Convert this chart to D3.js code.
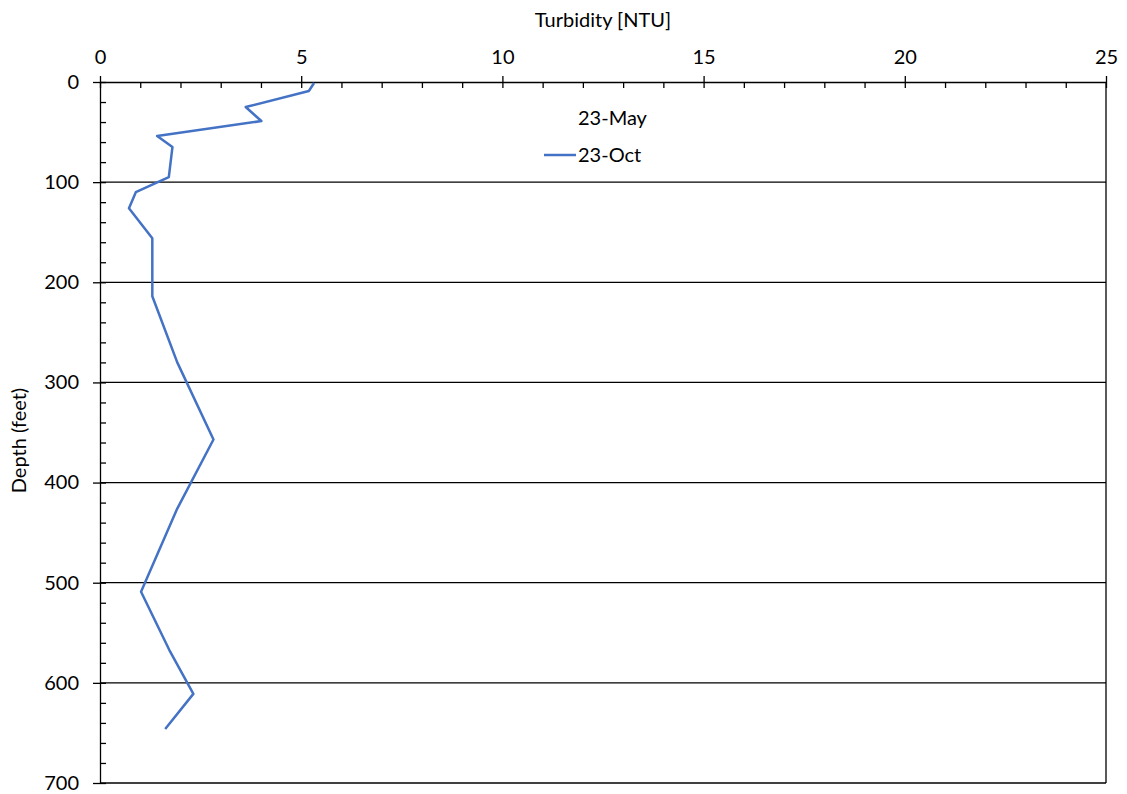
<!DOCTYPE html>
<html><head><meta charset="utf-8">
<script src="https://cdn.jsdelivr.net/npm/d3@7"></script>
<style>body{margin:0;background:#fff;} text{font-family:Lato,"Open Sans",sans-serif;}</style>
</head><body>
<svg id="c" width="1127" height="794"></svg>
<script>
const turbidityOct = [5.32,5.19,3.62,4.01,1.42,1.80,1.71,0.89,0.72,1.30,1.30,1.92,2.82,1.92,1.02,1.72,2.32,1.62];
const depthOct     = [1,9,25,39,54,65,95,110,126,156,214,280,357,426,509,567,611,646];
const xTicks = [0,5,10,15,20,25];
const yTicks = [0,100,200,300,400,500,600,700];
const seriesNames = ["23-May","23-Oct"];

const svg = d3.select("#c");
const L=100,R=1106,T=82,B=783;
const FS=20;
const x = d3.scaleLinear().domain([0,25]).range([L,R]);
const y = d3.scaleLinear().domain([0,700]).range([T,B]);
const ink="#000";

// gridlines
svg.append("g").selectAll("line").data(yTicks.filter(d=>d>0)).join("line")
  .attr("x1",L).attr("x2",R).attr("y1",d=>y(d)).attr("y2",d=>y(d))
  .attr("stroke",ink).attr("stroke-width",1.3);

// right border
svg.append("line").attr("x1",R).attr("x2",R).attr("y1",T).attr("y2",B).attr("stroke",ink).attr("stroke-width",1.3);

// top x axis
const xa = svg.append("g").attr("transform",`translate(0,${T})`)
  .call(d3.axisTop(x).tickValues(xTicks).tickSize(6).tickPadding(12).tickSizeOuter(0));
xa.select(".domain").attr("stroke",ink).attr("stroke-width",1.3);
xa.selectAll(".tick line").attr("stroke",ink).attr("stroke-width",1.3);
xa.selectAll("text").attr("font-size",FS).attr("fill","#000");
svg.append("g").attr("transform",`translate(0,${T})`)
  .call(d3.axisBottom(x).ticks(25).tickSize(6).tickFormat("").tickSizeOuter(0))
  .call(g=>{g.select(".domain").remove();g.selectAll("line").attr("stroke",ink).attr("stroke-width",1.3);});

// left y axis
const ya = svg.append("g").attr("transform",`translate(${L},0)`)
  .call(d3.axisLeft(y).tickValues(yTicks).tickSize(7).tickPadding(14).tickSizeOuter(0));
ya.select(".domain").attr("stroke",ink).attr("stroke-width",1.3);
ya.selectAll(".tick line").attr("stroke",ink).attr("stroke-width",1.3);
ya.selectAll("text").attr("font-size",FS).attr("fill","#000");
svg.append("g").attr("transform",`translate(${L},0)`)
  .call(d3.axisRight(y).ticks(35).tickSize(6).tickFormat("").tickSizeOuter(0))
  .call(g=>{g.select(".domain").remove();g.selectAll("line").attr("stroke",ink).attr("stroke-width",1.3);});

// titles
svg.append("text").attr("x",x(12.5)).attr("y",27).attr("text-anchor","middle").attr("font-size",FS).text("Turbidity [NTU]");
svg.append("text").attr("transform",`translate(26,${(T+B)/2+8}) rotate(-90)`).attr("text-anchor","middle").attr("font-size",FS).text("Depth (feet)");

// line
const pts = depthOct.map((d,i)=>[turbidityOct[i],d]);
svg.append("path").datum(pts)
  .attr("d",d3.line().x(d=>x(d[0])).y(d=>y(d[1])))
  .attr("fill","none").attr("stroke","#4472C4").attr("stroke-width",2.5).attr("stroke-linejoin","round");

// legend
svg.append("text").attr("x",578).attr("y",125).attr("font-size",FS).text(seriesNames[0]);
svg.append("line").attr("x1",544).attr("x2",576).attr("y1",155).attr("y2",155).attr("stroke","#4472C4").attr("stroke-width",2.5);
svg.append("text").attr("x",578).attr("y",162).attr("font-size",FS).text(seriesNames[1]);
</script>
</body></html>
